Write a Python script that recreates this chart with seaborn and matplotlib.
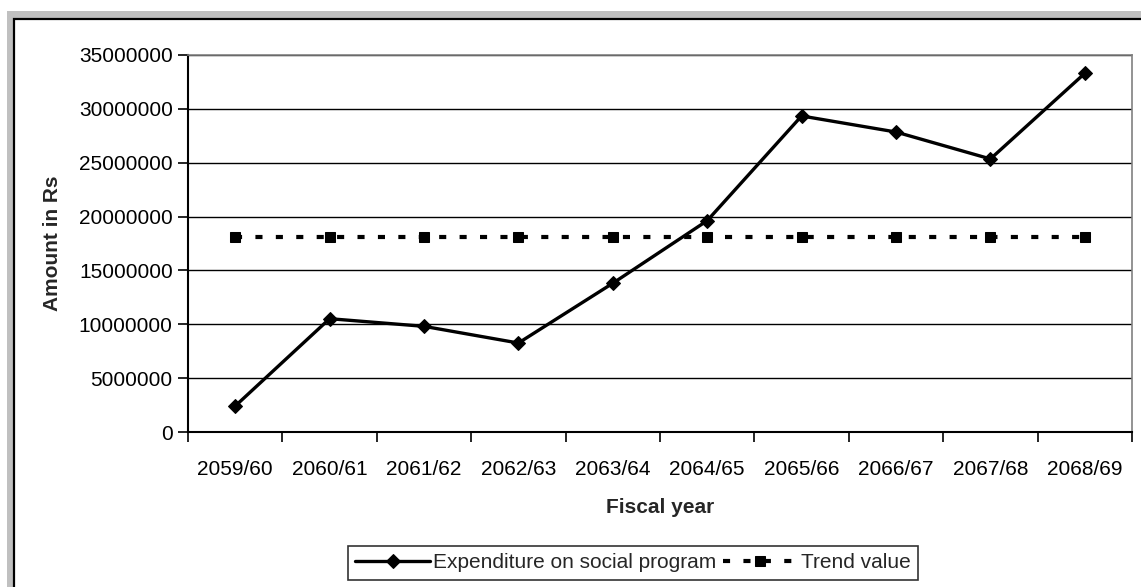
import matplotlib
matplotlib.use("Agg")
import matplotlib.pyplot as plt
from matplotlib.patches import Rectangle
import numpy as np
import pandas as pd
import seaborn as sns

# Fiscal years (Nepali calendar) and amounts in rupees
years = ["2059/60", "2060/61", "2061/62", "2062/63", "2063/64",
         "2064/65", "2065/66", "2066/67", "2067/68", "2068/69"]
expenditure = [2410000, 10520000, 9810000, 8260000, 13810000,
               19620000, 29340000, 27850000, 25350000, 33300000]
trend = [18080000] * 10

y_ticks = [0, 5000000, 10000000, 15000000, 20000000, 25000000, 30000000, 35000000]

sns.set_theme(style="white")
plt.rcParams["font.family"] = ["Liberation Sans", "DejaVu Sans"]

W, H = 1141, 587
fig = plt.figure(figsize=(W / 100, H / 100), dpi=100)
fig.patch.set_facecolor("white")

# Chart frame: grey band with a black inner line
fig.patches.append(Rectangle((7 / W, -0.1), 1.2, (H - 11) / H + 0.1,
                             transform=fig.transFigure, facecolor="#c0c0c0",
                             edgecolor="none", zorder=-10))
fig.patches.append(Rectangle((14 / W, -0.1), 1.2, (H - 19) / H + 0.1,
                             transform=fig.transFigure, facecolor="white",
                             edgecolor="black", linewidth=1.6, zorder=-9))

ax = fig.add_axes([188 / W, 1 - 432 / H, (1132 - 188) / W, (432 - 55) / H])
ax.set_facecolor("none")

pos = np.arange(len(years))
df = pd.DataFrame({"pos": pos, "expenditure": expenditure, "trend": trend})

sns.lineplot(data=df, x="pos", y="expenditure", ax=ax, color="black",
             linewidth=2.4, marker="D", markersize=7.5, markeredgecolor="black",
             label="Expenditure on social program", zorder=4)
sns.lineplot(data=df, x="pos", y="trend", ax=ax, color="black",
             linewidth=3.0, marker="s", markersize=7.5, markeredgecolor="black",
             dashes=False, label="Trend value", zorder=3)
ax.lines[-1].set_dashes((1.7, 3.2))

ax.set_xlim(-0.5, len(years) - 0.5)
ax.set_ylim(0, 35000000)

# Category labels centred, tick marks on the boundaries
ax.set_xticks(np.arange(-0.5, len(years)), minor=False)
ax.set_xticklabels([])
ax.set_xticks(pos, minor=True)
ax.set_xticklabels(years, minor=True)
ax.tick_params(axis="x", which="major", direction="out", length=7,
               width=1.2, color="black", bottom=True)
ax.tick_params(axis="x", which="minor", length=0, pad=20,
               labelsize=15, labelcolor="black")

ax.set_yticks(y_ticks)
ax.set_yticklabels([str(v) for v in y_ticks])
ax.tick_params(axis="y", direction="out", length=7, width=1.2, color="black",
               left=True, labelsize=15, labelcolor="black", pad=4)

ax.grid(axis="y", color="black", linewidth=1.0)
ax.set_axisbelow(True)

for side in ("left", "bottom"):
    ax.spines[side].set_color("black")
    ax.spines[side].set_linewidth(1.5)
for side in ("top", "right"):
    ax.spines[side].set_visible(True)
    ax.spines[side].set_color("#808080")
    ax.spines[side].set_linewidth(1.2)

ax.set_xlabel("Fiscal year", fontsize=15, fontweight="bold", labelpad=14)
ax.set_ylabel("Amount in Rs", fontsize=15, fontweight="bold", labelpad=12)

ax.legend_.remove()
handles, labels = ax.get_legend_handles_labels()
leg = fig.legend(handles, labels, loc="center", ncol=2,
                 bbox_to_anchor=(633 / W, 1 - 563 / H),
                 frameon=True, fancybox=False, edgecolor="black",
                 fontsize=15, handlelength=3.6, handletextpad=0.15,
                 columnspacing=0.3, borderpad=0.35, borderaxespad=0)
leg.get_frame().set_linewidth(1.2)
leg.get_frame().set_facecolor("white")

fig.savefig("out.png", dpi=100)
